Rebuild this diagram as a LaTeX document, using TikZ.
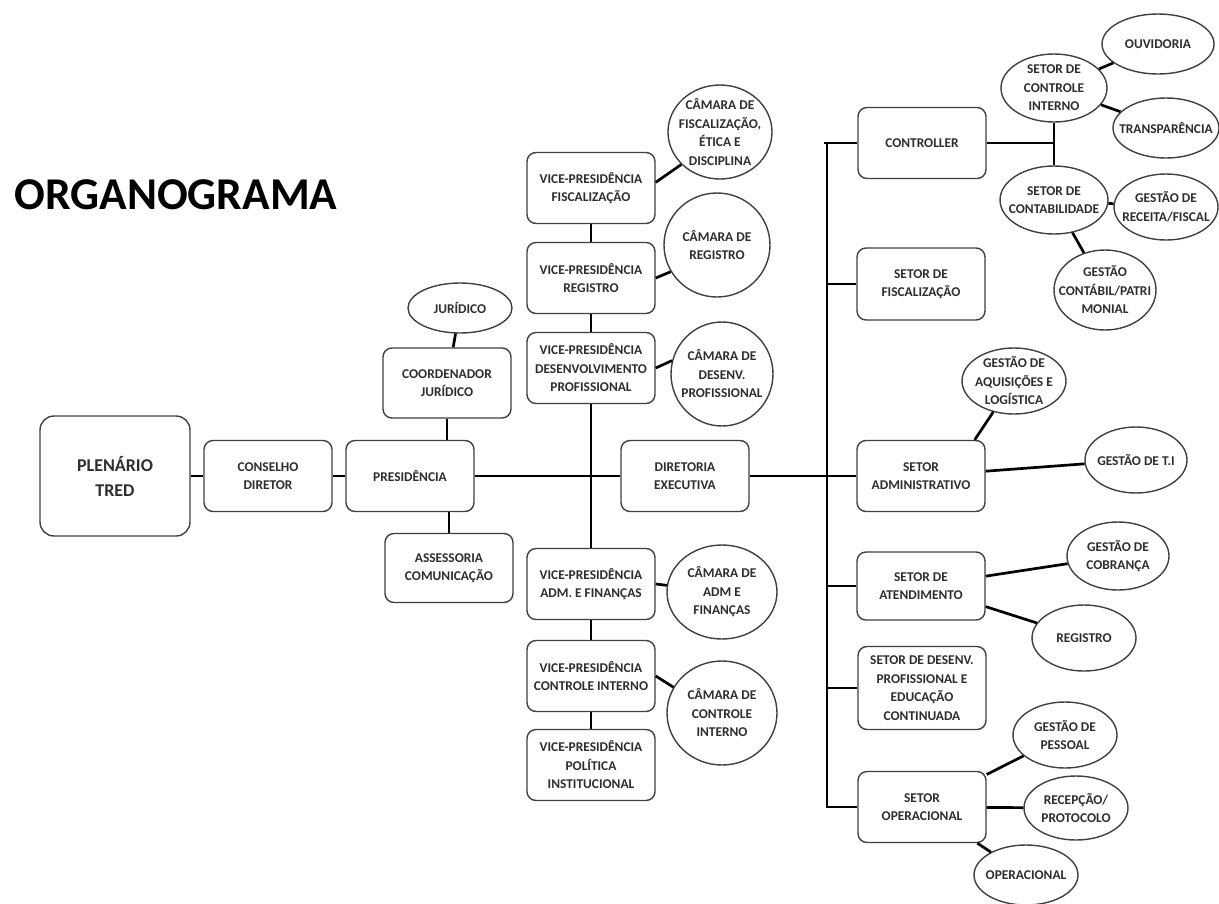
\documentclass[tikz,border=0pt]{standalone}
\usepackage{fontspec}
\setmainfont{Carlito}
\usetikzlibrary{shapes.geometric,calc}

\newcommand\rotulo{\fontsize{13.4pt}{18.5pt}\selectfont\bfseries}
\newcommand\rotulogrande{\fontsize{18pt}{25pt}\selectfont\bfseries}
\newcommand\titulo{\fontsize{45.5pt}{48pt}\selectfont\bfseries}

\tikzset{
  texto/.style={font=\rotulo, text=black!82, align=center},
  caixa/.style={draw=black!75, line width=1.4pt, rounded corners=9pt, fill=white, texto,
    minimum width=128pt, minimum height=71pt, inner sep=0pt},
  bola/.style n args={3}{ellipse, draw=black!75, line width=1.4pt, fill=white,
    minimum width=#1, minimum height=#2, inner sep=0pt, label={[texto]center:#3}},
  liga/.style={line width=2.7pt},
}

\begin{document}
\begin{tikzpicture}[x=1pt,y=-1pt]
			%%%%% START %%%%%
			\useasboundingbox (0,0) rectangle (1219,903);
			
			\node[anchor=west, font=\titulo] (titulo) at (11,195) {ORGANOGRAMA};
			
			% linha principal
			\node[caixa, minimum width=150pt, minimum height=120pt, rounded corners=14pt, font=\rotulogrande] (plenario) at (115,476) {PLENÁRIO\\TRED};
			\node[caixa] (conselho) at (268,476) {CONSELHO\\DIRETOR};
			\node[caixa] (presid) at (410,476) {PRESIDÊNCIA};
			\node[caixa] (diretoria) at (685,476) {DIRETORIA\\EXECUTIVA};
			
			% juridico e comunicacao
			\node[bola={104pt}{50pt}{JURÍDICO}] (juridico) at (460,308) {};
			\node[caixa, minimum height=70pt] (coord) at (447,383) {COORDENADOR\\JURÍDICO};
			\node[caixa, minimum height=69pt] (assessoria) at (449,568) {ASSESSORIA\\COMUNICAÇÃO};
			
			% vice-presidencias
			\node[caixa] (vpfisc) at (591,188) {VICE-PRESIDÊNCIA\\FISCALIZAÇÃO};
			\node[caixa] (vpreg) at (591,278) {VICE-PRESIDÊNCIA\\REGISTRO};
			\node[caixa] (vpdes) at (591,368) {VICE-PRESIDÊNCIA\\DESENVOLVIMENTO\\PROFISSIONAL};
			\node[caixa] (vpadm) at (591,584) {VICE-PRESIDÊNCIA\\ADM. E FINANÇAS};
			\node[caixa] (vpci) at (591,676) {VICE-PRESIDÊNCIA\\CONTROLE INTERNO};
			\node[caixa] (vppol) at (591,765) {VICE-PRESIDÊNCIA\\POLÍTICA\\INSTITUCIONAL};
			
			% camaras
			\node[bola={104pt}{94pt}{CÂMARA DE\\FISCALIZAÇÃO,\\ÉTICA E\\DISCIPLINA}] (camfisc) at (720,132) {};
			\node[bola={106pt}{104pt}{CÂMARA DE\\REGISTRO}] (camreg) at (717,245) {};
			\node[bola={102pt}{104pt}{CÂMARA DE\\DESENV.\\PROFISSIONAL}] (camdes) at (722,374) {};
			\node[bola={110pt}{94pt}{CÂMARA DE\\ADM E\\FINANÇAS}] (camadm) at (722,592) {};
			\node[bola={110pt}{104pt}{CÂMARA DE\\CONTROLE\\INTERNO}] (camci) at (722,713) {};
			
			% setores
			\node[caixa] (controller) at (922,143) {CONTROLLER};
			\node[caixa, minimum height=72pt] (setfisc) at (921,284) {SETOR DE\\FISCALIZAÇÃO};
			\node[caixa] (setadm) at (921,476) {SETOR\\ADMINISTRATIVO};
			\node[caixa, minimum height=68pt] (setatend) at (921,586) {SETOR DE\\ATENDIMENTO};
			\node[caixa, minimum height=83pt] (setdes) at (922,688) {SETOR DE DESENV.\\PROFISSIONAL E\\EDUCAÇÃO\\CONTINUADA};
			\node[caixa] (setoper) at (922,807) {SETOR\\OPERACIONAL};
			
			% controller
			\node[bola={106pt}{68pt}{SETOR DE\\CONTROLE\\INTERNO}] (ctrlint) at (1054,88) {};
			\node[bola={112pt}{60pt}{OUVIDORIA}] (ouvidoria) at (1158,44) {};
			\node[bola={106pt}{60pt}{TRANSPARÊNCIA}] (transp) at (1166,128) {};
			\node[bola={108pt}{68pt}{SETOR DE\\CONTABILIDADE}] (contab) at (1054,200) {};
			\node[bola={104pt}{66pt}{GESTÃO DE\\RECEITA/FISCAL}] (receita) at (1166,207) {};
			\node[bola={102pt}{80pt}{GESTÃO\\CONTÁBIL/PATRI\\MONIAL}] (patrim) at (1105,290) {};
			
			% demais gestoes
			\node[bola={104pt}{66pt}{GESTÃO DE\\AQUISIÇÕES E\\LOGÍSTICA}] (aquis) at (1014,381) {};
			\node[bola={102pt}{66pt}{GESTÃO DE T.I}] (gesti) at (1136,460) {};
			\node[bola={102pt}{68pt}{GESTÃO DE\\COBRANÇA}] (cobranca) at (1118,556) {};
			\node[bola={104pt}{66pt}{REGISTRO}] (registro) at (1084,638) {};
			\node[bola={104pt}{66pt}{GESTÃO DE\\PESSOAL}] (pessoal) at (1065,735) {};
			\node[bola={104pt}{64pt}{RECEPÇÃO/\\PROTOCOLO}] (recepcao) at (1076,808) {};
			\node[bola={104pt}{60pt}{OPERACIONAL}] (operac) at (1026,875) {};
			
			%%%%% LIGACOES %%%%%
			\draw[liga] (plenario) -- (conselho);
			\draw[liga] (conselho) -- (presid);
			\draw[liga] (presid) -- (diretoria);
			\draw[liga] (diretoria) -- (setadm);
			
			\draw[liga] (juridico) -- (coord);
			\draw[liga] (coord) -- (coord |- presid.north);
			\draw[liga] (assessoria) -- (assessoria |- presid.south);
			
			\draw[liga] (vpfisc) -- (vpreg);
			\draw[liga] (vpreg) -- (vpdes);
			\draw[liga] (vpdes) -- (vpadm);
			\draw[liga] (vpadm) -- (vpci);
			\draw[liga] (vpci) -- (vppol);
			
			\draw[liga] (vpfisc.5) -- (camfisc.220);
			\draw[liga] (vpreg.east) -- (camreg.210);
			\draw[liga] (vpdes.east) -- (camdes.165);
			\draw[liga] (vpadm.east) -- (camadm);
			\draw[liga] (vpci.east) -- (camci.152);
			
			% tronco dos setores
			\coordinate (tronco) at (827,143);
			\draw[liga] ($(tronco)+(-3,0)$) -- (controller.west);
			\draw[liga] (tronco) -- (tronco |- setoper.west) -- (setoper.west);
			\draw[liga] (setfisc.west -| tronco) -- (setfisc.west);
			\draw[liga] (setatend.west -| tronco) -- (setatend.west);
			\draw[liga] (setdes.west -| tronco) -- (setdes.west);
			
			\draw[liga] (controller.east) -- (ctrlint.south |- controller.east);
			\draw[liga] (ctrlint) -- (contab);
			\draw[liga] (ctrlint) -- (ouvidoria);
			\draw[liga] (ctrlint) -- (transp);
			\draw[liga] (contab) -- (receita);
			\draw[liga] (contab) -- (patrim);
			
			\draw[liga] (setadm.34) -- (aquis);
			\draw[liga] (setadm) -- (gesti);
			\draw[liga] (setatend) -- (cobranca);
			\draw[liga] (setatend) -- (registro);
			\draw[liga] (setoper) -- (pessoal);
			\draw[liga] (setoper) -- (recepcao);
			\draw[liga] (setoper) -- (operac);
			
			%%%%% END %%%%%
\end{tikzpicture}
\end{document}
